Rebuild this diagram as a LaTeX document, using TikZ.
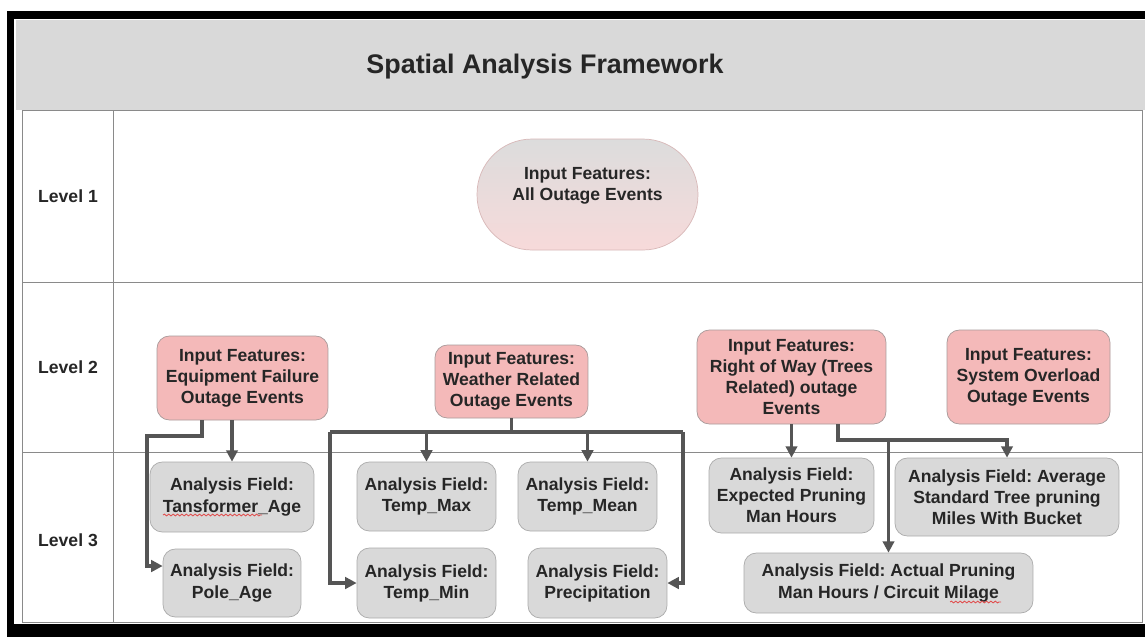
\documentclass[tikz,border=0pt]{standalone}
\usepackage{fontspec}
\setmainfont{Liberation Sans}
\usetikzlibrary{arrows.meta,decorations.pathmorphing}
\frenchspacing

\definecolor{pinkfill}{HTML}{F4B9B9}
\definecolor{pinkedge}{HTML}{A89A9A}
\definecolor{greyfill}{HTML}{D9D9D9}
\definecolor{greyedge}{HTML}{ABABAB}
\definecolor{linegrey}{HTML}{555555}
\definecolor{rulegrey}{HTML}{8A8A8A}
\definecolor{inktext}{HTML}{262626}
\definecolor{ovaltop}{HTML}{DCDCDC}
\definecolor{ovalbot}{HTML}{F7DADA}
\definecolor{ovaledge}{HTML}{D8B8B8}
\definecolor{spellred}{HTML}{E05050}

\begin{document}
\begin{tikzpicture}[x=0.02cm,y=-0.02cm,
  font=\bfseries\fontsize{10}{12}\selectfont, text=inktext,
  inbox/.style={draw=pinkedge, fill=pinkfill, rounded corners=7pt, align=center, inner sep=2pt},
  fieldbox/.style={draw=greyedge, fill=greyfill, rounded corners=7pt, align=center, inner sep=2pt},
  bus/.style={draw=linegrey, line width=1.9pt},
  conn/.style={bus, -{Triangle[length=6.5pt,width=6.5pt]}},
  squiggle/.style={draw=spellred, line width=0.5pt, decorate,
    decoration={snake, amplitude=0.5pt, segment length=2.5pt}}]

\useasboundingbox (0,0) rectangle (1145,637);

% Frame and table
\fill[black] (7,11) rectangle (1145,637);
\fill[white] (14,19) rectangle (1145,624);
\fill[greyfill] (16,20) rectangle (1145,110);
\draw[rulegrey] (22,110) rectangle (1142,622);
\draw[rulegrey] (22,282) -- (1142,282);
\draw[rulegrey] (22,452) -- (1142,452);
\draw[rulegrey] (113,110) -- (113,622);

\node (title) at (545,67) {\fontsize{15.3}{18}\selectfont Spatial Analysis Framework};

\node (lev1) at (68,196) {Level 1};
\node (lev2) at (68,367) {Level 2};
\node (lev3) at (68,540) {Level 3};

% Level 1
\node[draw=ovaledge, top color=ovaltop, bottom color=ovalbot, rounded corners=1.1cm,
  minimum width=4.42cm, minimum height=2.22cm, align=center] (all) at (587.5,194.5)
  {Input Features:\\All Outage Events\\~};

% Level 2
\node[inbox, minimum width=3.42cm, minimum height=1.68cm] (equip) at (242.5,378)
  {Input Features:\\Equipment Failure\\Outage Events};
\node[inbox, minimum width=3.06cm, minimum height=1.46cm] (weather) at (511.5,381.5)
  {Input Features:\\Weather Related\\Outage Events};
\node[inbox, minimum width=3.78cm, minimum height=1.88cm] (row) at (791.5,377)
  {Input Features:\\Right of Way (Trees\\Related) outage\\Events};
\node[inbox, minimum width=3.26cm, minimum height=1.88cm] (overload) at (1028.5,377)
  {Input Features:\\System Overload\\Outage Events};

% Level 3
\node[fieldbox, minimum width=3.28cm, minimum height=1.40cm] (tage) at (232,497)
  {Analysis Field:\\Tansformer\_Age};
\node[fieldbox, minimum width=2.76cm, minimum height=1.36cm] (page) at (232,583)
  {Analysis Field:\\Pole\_Age};
\node[fieldbox, minimum width=2.78cm, minimum height=1.38cm] (tmax) at (426.5,496.5)
  {Analysis Field:\\Temp\_Max};
\node[fieldbox, minimum width=2.78cm, minimum height=1.38cm] (tmean) at (587.5,496.5)
  {Analysis Field:\\Temp\_Mean};
\node[fieldbox, minimum width=2.78cm, minimum height=1.40cm] (tmin) at (426.5,583)
  {Analysis Field:\\Temp\_Min};
\node[fieldbox, minimum width=2.78cm, minimum height=1.40cm] (precip) at (597.5,583)
  {Analysis Field:\\Precipitation};
\node[fieldbox, minimum width=3.30cm, minimum height=1.50cm] (expect) at (791.5,495.5)
  {Analysis Field:\\Expected Pruning\\Man Hours};
\node[fieldbox, minimum width=4.48cm, minimum height=1.56cm] (avg) at (1007,497)
  {Analysis Field: Average\\Standard Tree pruning\\Miles With Bucket};
\node[fieldbox, minimum width=5.78cm, minimum height=1.20cm] (actual) at (888.5,583)
  {Analysis Field: Actual Pruning\\Man Hours / Circuit Milage};

% spell-check marks
\draw[squiggle] (163,515) -- (262,515);
\draw[squiggle] (950,602) -- (1001,602);

% Connectors
\coordinate (eqL) at (147,436);
\draw[conn] (tage.north |- equip.south) -- (tage.north);
\draw[conn] ([xshift=-0.81cm]equip.south) |- (eqL) |- ([yshift=0.34cm]page.west);

\coordinate (wL) at (330,432);
\coordinate (wR) at (683,432);
\draw[bus] (weather.south) -- (weather.south |- wL);
\draw[bus] (wL) -- (wR);
\draw[conn] (tmax.north |- wL) -- (tmax.north);
\draw[conn] (tmean.north |- wL) -- (tmean.north);
\draw[conn] (wL) |- (tmin.west);
\draw[conn] (wR) |- (precip.east);

\coordinate (rB) at (888.5,440);
\draw[conn] (row.south) -- (expect.north);
\draw[conn] ([xshift=0.93cm]row.south) |- (rB) -| (avg.north);
\draw[conn] (rB) -- (actual.north);

\end{tikzpicture}
\end{document}
